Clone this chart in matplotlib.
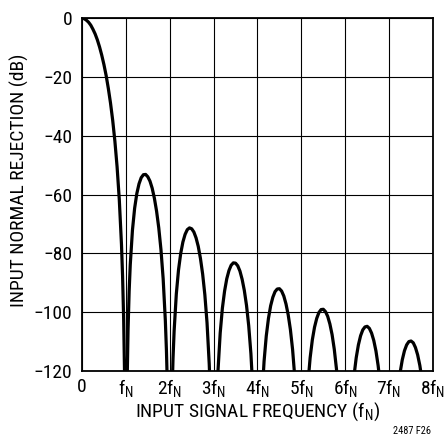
import matplotlib
matplotlib.use("Agg")
import matplotlib.pyplot as plt

# narrow sans to mimic the condensed Helvetica of the original
plt.rcParams['font.family'] = ['Roboto Condensed', 'Liberation Sans Narrow', 'DejaVu Sans']
plt.rcParams['font.stretch'] = 'condensed'

# input frequency (multiples of fN) and rejection (dB)
# nulls at integer fN go far below the axis (-200)
freq = [0, 0.05, 0.1, 0.15, 0.2, 0.25, 0.3, 0.35, 0.4, 0.45, 0.5, 0.55, 0.6, 0.65, 0.7,
        0.75, 0.8, 0.85, 0.9, 0.925, 0.95, 0.97, 1.0,
        1.03, 1.05, 1.075, 1.1, 1.15, 1.2, 1.25, 1.3, 1.35, 1.4, 1.45, 1.5, 1.55, 1.6, 1.65,
        1.7, 1.75, 1.8, 1.85, 1.9, 1.925, 1.95, 2.0,
        2.05, 2.075, 2.1, 2.15, 2.2, 2.25, 2.3, 2.35, 2.4, 2.45, 2.5, 2.55, 2.6, 2.65, 2.7,
        2.75, 2.8, 2.85, 2.9, 2.925, 3.0,
        3.05, 3.1, 3.15, 3.2, 3.25, 3.3, 3.35, 3.4, 3.45, 3.5, 3.55, 3.6, 3.65, 3.7, 3.75,
        3.8, 3.85, 3.9, 4.0,
        4.1, 4.15, 4.2, 4.25, 4.3, 4.35, 4.4, 4.45, 4.5, 4.55, 4.6, 4.65, 4.7, 4.75, 4.8,
        4.85, 4.9, 5.0,
        5.1, 5.15, 5.2, 5.25, 5.3, 5.35, 5.4, 5.45, 5.5, 5.55, 5.6, 5.65, 5.7, 5.75, 5.8,
        5.85, 5.9, 6.0,
        6.1, 6.2, 6.25, 6.3, 6.35, 6.4, 6.45, 6.5, 6.55, 6.6, 6.65, 6.7, 6.75, 6.8, 6.9, 7.0,
        7.2, 7.25, 7.3, 7.35, 7.4, 7.45, 7.5, 7.55, 7.6, 7.65, 7.7, 7.75, 7.8, 8.0]
rejection_db = [0, -0.1, -0.6, -1.3, -2.3, -3.7, -5.3, -7.3, -9.7, -12.5, -15.7, -19.4, -23.8,
                -28.8, -34.7, -41.8, -50.5, -61.6, -76.9, -87.6, -102.4, -120.8, -200,
                -122.9, -105.9, -92.8, -83.9, -72.1, -64.6, -59.6, -56.3, -54.2, -53.2, -53.1,
                -53.9, -55.4, -57.8, -61.2, -65.6, -71.3, -78.7, -88.6, -102.9, -113.1, -127.4, -200,
                -129.2, -115.7, -106.4, -93.8, -85.6, -80.0, -76.1, -73.5, -71.9, -71.3, -71.6,
                -72.7, -74.7, -77.6, -81.7, -87.0, -94.0, -103.6, -117.6, -127.6, -200,
                -143.0, -119.9, -107.1, -98.6, -92.8, -88.6, -85.8, -84.0, -83.2, -83.3, -84.2,
                -86.0, -88.8, -92.6, -97.7, -104.6, -114.1, -127.9, -200,
                -129.6, -116.7, -108.1, -102.1, -97.8, -94.9, -93.0, -92.1, -92.0, -92.8, -94.5,
                -97.2, -100.9, -105.9, -112.7, -122.1, -135.8, -200,
                -137.2, -124.2, -115.5, -109.4, -105.1, -102.1, -100.1, -99.1, -99.0, -99.8,
                -101.4, -104.0, -107.6, -112.6, -119.3, -128.6, -142.2, -200,
                -143.4, -121.6, -115.5, -111.1, -108.0, -106.0, -105.0, -104.8, -105.5, -107.1,
                -109.6, -113.2, -118.2, -124.8, -147.7, -200,
                -126.8, -120.6, -116.2, -113.1, -111.1, -110.0, -109.8, -110.4, -112.0, -114.5,
                -118.1, -123.0, -129.6, -200]

x_ticks = [0, 1, 2, 3, 4, 5, 6, 7, 8]
x_labels = ['0', r'f$_\mathregular{N}$'] + [str(k) + r'f$_\mathregular{N}$' for k in range(2, 9)]
y_ticks = [0, -20, -40, -60, -80, -100, -120]

fig = plt.figure(figsize=(4.48, 4.38), dpi=100)
ax = fig.add_axes([0.183, 0.153, 0.7835, 0.805])

ax.plot(freq, rejection_db, color='black', lw=2.3, solid_joinstyle='round')

ax.set_xlim(0, 8)
ax.set_ylim(-120, 0)
ax.set_xticks(x_ticks)
ax.set_xticklabels(x_labels)
ax.set_yticks(y_ticks)
ax.grid(True, color='black', lw=0.8)
ax.tick_params(length=0, labelsize=14)
ax.tick_params(axis='y', pad=7)
ax.tick_params(axis='x', pad=5)
for s in ax.spines.values():
    s.set_linewidth(1.3)

ax.set_xlabel(r'INPUT SIGNAL FREQUENCY (f$_\mathregular{N}$)', fontsize=14, labelpad=0)
ax.set_ylabel('INPUT NORMAL REJECTION (dB)', fontsize=14)
ax.yaxis.set_label_coords(-0.152, 0.542)
fig.text(0.962, 0.016, '2487 F26', fontsize=7.5, ha='right', va='center')

fig.savefig('out.png', dpi=100)
